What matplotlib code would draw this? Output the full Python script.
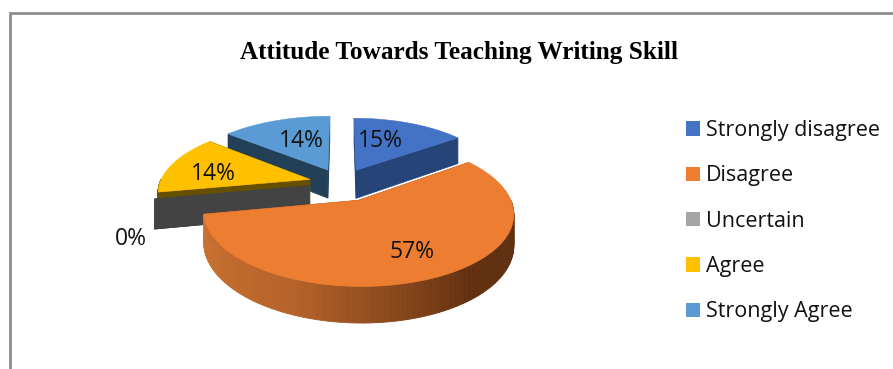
import numpy as np
import matplotlib
matplotlib.use("Agg")
import matplotlib.pyplot as plt
from matplotlib.colors import LinearSegmentedColormap
from matplotlib.patches import Patch, Polygon

labels = ["Strongly disagree", "Disagree", "Uncertain", "Agree", "Strongly Agree"]
values = [15, 57, 0, 14, 14]
pct_text = ["15%", "57%", "0%", "14%", "14%"]

top_colors = ["#4472C4", "#ED7D31", "#A5A5A5", "#FFC000", "#5B9BD5"]
wall_colors = ["#264478", "#8A4A20", "#434343", "#665000", "#234059"]
text_pos = [(380, 141), (412, 252.5), (131, 239), (213, 174), (301, 141)]
draw_order = [4, 0, 3, 2, 1]

# layout of the fake 3d pie, in pixels
W, H = 893, 369
cx, cy = 341.5, 183
rx, ry = 150, 67
persp = 0.17
depth = 29
explode = [0.22, 0.27, 0.22, 0.22, 0.22]
radius = [0.96, 0.975, 1, 1, 1]

wall_cmap = LinearSegmentedColormap.from_list(
    "wall", [(0, "#CC7430"), (0.35, "#B5622A"), (0.7, "#61300F"), (1, "#5E3013")])


def project(u, v, z=0):
    s = 1 / (1 - persp * v)
    return cx + rx * u * s, cy + (ry * v + z * depth) * s


fig = plt.figure(figsize=(W / 100, H / 100), dpi=100)
ax = fig.add_axes([0, 0, 1, 1])
ax.set_xlim(0, W)
ax.set_ylim(H, 0)
ax.axis("off")

# chart border, only left and top are on the picture
ax.plot([10, 10, W], [H, 13, 13], color="#8C8C8C", lw=2, solid_joinstyle="miter")

edges = 2 * np.pi * np.concatenate([[0], np.cumsum(values)]) / sum(values)

for i in draw_order:
    t0, t1 = edges[i], edges[i + 1]
    mid = (t0 + t1) / 2
    ex, ey = explode[i] * np.sin(mid), -explode[i] * np.cos(mid)
    r = radius[i]
    apex_top = project(ex, ey)
    apex_low = project(ex, ey, 1)

    def rim(theta, z=0):
        return project(ex + r * np.sin(theta), ey - r * np.cos(theta), z)

    # flat side walls
    for t in (t0, t1):
        quad = [apex_top, rim(t), rim(t, 1), apex_low]
        ax.add_patch(Polygon(quad, fc=wall_colors[i], ec=wall_colors[i], lw=0.5))

    # round wall, front part only
    a0, a1 = max(t0, np.pi / 2), min(t1, 3 * np.pi / 2)
    if a1 > a0:
        steps = np.linspace(a0, a1, 90)
        for a, b in zip(steps[:-1], steps[1:]):
            quad = [rim(a), rim(b), rim(b, 1), rim(a, 1)]
            col = wall_cmap(1 - (a - a0) / (a1 - a0)) if i == 1 else wall_colors[i]
            ax.add_patch(Polygon(quad, fc=col, ec=col, lw=0.6))

    # top face
    if t1 > t0:
        arc = np.linspace(t0, t1, 120)
        pts = [apex_top] + [rim(t) for t in arc]
        ax.add_patch(Polygon(pts, fc=top_colors[i], ec=top_colors[i], lw=0.4))

for txt, (x, y) in zip(pct_text, text_pos):
    ax.text(x, y, txt, ha="center", va="center", fontsize=16.5, family="Open Sans", color="#111111")

ax.text(459, 53, "Attitude Towards Teaching Writing Skill", ha="center", va="center",
        fontsize=18.2, fontweight="bold", family="Liberation Serif", color="black")

handles = [Patch(fc=c, ec="none") for c in top_colors]
leg = fig.legend(handles, labels, loc="upper left", bbox_to_anchor=(686 / W, 1 - 120 / H),
                 frameon=False, borderpad=0, borderaxespad=0,
                 handlelength=0.65, handleheight=0.65, handletextpad=0.28, labelspacing=1.13,
                 prop={"family": "Open Sans", "size": 15.5})
for t in leg.get_texts():
    t.set_color("#111111")

fig.savefig("out.png", dpi=100)
